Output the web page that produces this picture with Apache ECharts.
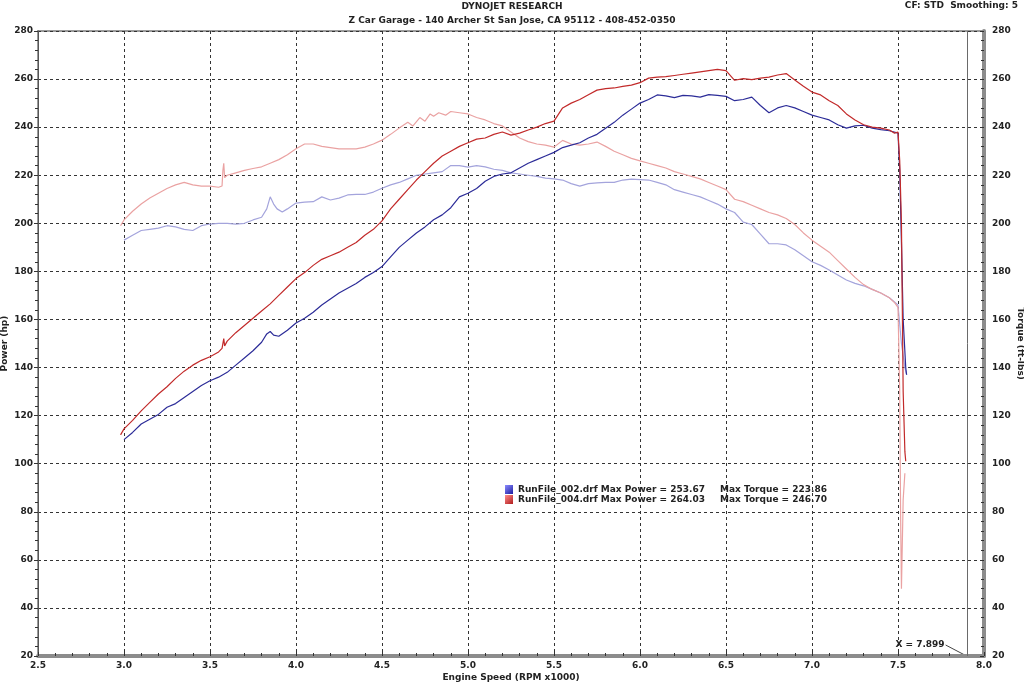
<!DOCTYPE html>
<html>
<head>
<meta charset="utf-8">
<script src="https://cdn.jsdelivr.net/npm/echarts@6/dist/echarts.min.js"></script>
<style>html,body{margin:0;padding:0;background:#fff}#c{width:1024px;height:682px}</style>
</head>
<body>
<div id="c"></div>
<script>
// ---- Data ----
const xTicks = ['2.5','3.0','3.5','4.0','4.5','5.0','5.5','6.0','6.5','7.0','7.5','8.0'];
const yTicks = [20,40,60,80,100,120,140,160,180,200,220,240,260,280];

const rpmP002 = [3.00,3.05,3.10,3.15,3.20,3.25,3.30,3.35,3.40,3.45,3.50,3.55,3.60,3.65,3.70,3.75,3.80,3.83,3.85,3.87,3.90,3.95,4.00,4.05,4.10,4.15,4.20,4.25,4.30,4.35,4.40,4.45,4.50,4.55,4.60,4.65,4.70,4.75,4.80,4.85,4.90,4.95,5.00,5.05,5.10,5.15,5.20,5.25,5.30,5.35,5.40,5.45,5.50,5.55,5.60,5.65,5.70,5.75,5.80,5.85,5.90,5.95,6.00,6.05,6.10,6.15,6.20,6.25,6.30,6.35,6.40,6.45,6.50,6.55,6.60,6.65,6.70,6.75,6.80,6.85,6.90,6.95,7.00,7.05,7.10,7.15,7.20,7.25,7.30,7.35,7.40,7.45,7.50,7.51,7.52,7.53,7.545,7.55];
const power002 = [110,113,116.5,118.5,120.5,123.5,125,127.5,130,132.5,134.5,136,138,141,144,147,150.5,154,155,153.5,153,155.5,158.5,160.5,163,166,168.5,171,173,175,177.5,179.5,182,186,190,193,196,198.5,201.5,203.5,206.5,211,212.5,214.5,217.5,219.5,220.5,221,223,225,226.5,228,229.5,231.5,232.5,233.5,235.5,237,239.5,242,245,247.5,250,251.5,253.4,253,252.3,253.2,253,252.5,253.5,253.2,252.8,251,251.5,252.5,249,246,248,249,248,246.5,245,244,243,241,239.6,240.5,240.8,239.6,239,238.5,237.5,222,192,160,140,137];

const rpmP004 = [2.98,3.00,3.05,3.10,3.15,3.20,3.25,3.30,3.35,3.40,3.45,3.50,3.55,3.57,3.58,3.585,3.59,3.60,3.65,3.70,3.75,3.80,3.85,3.90,3.95,4.00,4.05,4.10,4.15,4.20,4.25,4.30,4.35,4.40,4.45,4.50,4.55,4.60,4.65,4.70,4.75,4.80,4.85,4.90,4.95,5.00,5.05,5.10,5.15,5.20,5.25,5.30,5.35,5.40,5.45,5.50,5.55,5.60,5.65,5.70,5.75,5.80,5.85,5.90,5.95,6.00,6.05,6.10,6.15,6.20,6.25,6.30,6.35,6.40,6.45,6.50,6.55,6.60,6.65,6.70,6.75,6.80,6.85,6.90,6.95,7.00,7.05,7.10,7.15,7.20,7.25,7.30,7.35,7.40,7.45,7.48,7.50,7.51,7.52,7.53,7.54,7.545];
const power004 = [112,114.5,118,122,125.5,129,132,135.5,138.5,141,143,144.5,146.5,148,152,149,148.5,151,154.5,157.5,160.5,163.5,166.5,170,173.5,177,179.5,182.5,185,186.5,188,190,192,195,197.5,201,206,210,214,218,221.5,225,228,230,232,233.5,235,235.5,237,238,236.7,237.5,238.8,240,241.5,242.5,248,250,251.5,253.5,255.4,256,256.3,257,257.5,258.5,260.4,260.8,261,261.5,262,262.5,263,263.5,264,263.5,259.5,260.2,259.8,260.4,260.8,261.7,262.3,259.6,257,254.6,253.4,251,249,245.5,243,241,240,239.6,238.8,237.5,238,226,200,130,105,101];

const rpmT002 = [3.00,3.05,3.10,3.15,3.20,3.25,3.30,3.35,3.40,3.45,3.50,3.55,3.60,3.65,3.70,3.75,3.80,3.83,3.85,3.87,3.89,3.92,3.95,4.00,4.05,4.10,4.15,4.20,4.25,4.30,4.35,4.40,4.45,4.50,4.55,4.60,4.65,4.70,4.75,4.80,4.85,4.90,4.95,5.00,5.05,5.10,5.15,5.20,5.25,5.30,5.35,5.40,5.45,5.50,5.55,5.60,5.65,5.70,5.75,5.80,5.85,5.90,5.95,6.00,6.05,6.10,6.15,6.20,6.25,6.30,6.35,6.40,6.45,6.50,6.55,6.60,6.65,6.70,6.75,6.80,6.85,6.90,6.95,7.00,7.05,7.10,7.15,7.20,7.25,7.30,7.35,7.40,7.45,7.50,7.52,7.54,7.55];
const torque002 = [193,195,197,197.5,198,199,198.5,197.5,197,199,199.7,200,200,199.7,200,201.4,202.5,206,211,208,206,204.7,206,208.4,208.8,209,211,209.7,210.5,211.8,212,212,213,214.6,216,217,218.5,220,220.5,221,221.5,224,224,223.4,224,223.5,222.5,222,221,220.5,220,219.5,218.8,218.5,218,216.5,215.5,216.5,216.8,217,217,218,218.4,218.2,218,217,216,214,213,212,211,209.5,208,206,204.5,200.5,199.5,195.5,191.5,191.5,191,189,186.5,184,182.5,180.6,178.5,176.4,175,174,172.5,171,169,166,150,140,137];

const rpmT004 = [2.98,3.00,3.05,3.10,3.15,3.20,3.25,3.30,3.35,3.40,3.45,3.50,3.55,3.57,3.575,3.58,3.585,3.59,3.60,3.65,3.70,3.75,3.80,3.85,3.90,3.95,4.00,4.05,4.10,4.15,4.20,4.25,4.30,4.35,4.40,4.45,4.50,4.55,4.60,4.65,4.68,4.72,4.75,4.78,4.80,4.83,4.87,4.90,4.95,5.00,5.05,5.10,5.15,5.20,5.25,5.30,5.35,5.40,5.45,5.50,5.55,5.60,5.65,5.70,5.75,5.80,5.85,5.90,5.95,6.00,6.05,6.10,6.15,6.20,6.25,6.30,6.35,6.40,6.45,6.50,6.55,6.60,6.65,6.70,6.75,6.80,6.85,6.90,6.95,7.00,7.05,7.10,7.15,7.20,7.25,7.30,7.35,7.40,7.45,7.48,7.50,7.51,7.515,7.52,7.53,7.54];
const torque004 = [199,201.4,205,208,210.5,212.5,214.5,216,217,216,215.5,215.5,215,215.5,222,225,219,218.5,220,221,222,222.8,223.5,225,226.5,228.5,231,233,233,232,231.5,231,231,231,231.7,233,234.6,237,239.6,242,240.5,244,242.5,245.5,244.5,246,245,246.5,246,245.5,244,243,241.5,240.5,238,235.5,234,233,232.5,231.7,234.5,233,232.5,233,233.8,232,230,228.5,227,226,225,224,223,221.5,220.5,219.5,218.5,217,215.5,214,210,209,207.5,206,204.5,203.5,202,199.5,196,193,190.5,188,184.5,181,177.5,174.5,172.5,171,169,167,165,130,80,48,85,96];

const runNames = ['RunFile_002.drf', 'RunFile_004.drf'];
const maxPower = [253.67, 264.03];
const maxTorque = [223.86, 246.70];
const cursorX = 7.899;

// ---- Chart ----
const pair = (xs, ys) => xs.map((x, i) => [x, ys[i]]);
const FONT = 'DejaVu Sans';
const lbl = {fontFamily: FONT, fontWeight: 'bold', fontSize: 9, color: '#222'};
const chart = echarts.init(document.getElementById('c'), null, {renderer: 'canvas'});

const yBase = {
  type: 'value', min: 20, max: 280, interval: 20,
  minorTick: {show: true, splitNumber: 5, length: 3, lineStyle: {color: '#333'}},
  axisTick: {show: true, length: 4, lineStyle: {color: '#333'}},
  axisLabel: Object.assign({}, lbl, {formatter: v => yTicks.includes(v) ? String(v) : ''}),
  nameLocation: 'middle', nameMoveOverlap: false,
  nameTextStyle: {fontFamily: FONT, fontWeight: 'bold', fontSize: 9, color: '#222'}
};

chart.setOption({
  animation: false,
  backgroundColor: '#fff',
  title: [
    {text: 'DYNOJET RESEARCH', subtext: 'Z Car Garage - 140 Archer St San Jose, CA 95112 - 408-452-0350',
     left: 'center', top: 1, itemGap: 2, padding: 0,
     textStyle: {fontFamily: FONT, fontWeight: 'bold', fontSize: 9, color: '#222', lineHeight: 12},
     subtextStyle: {fontFamily: FONT, fontWeight: 'bold', fontSize: 9, color: '#222', lineHeight: 12}},
    {text: 'CF: STD  Smoothing: 5', right: 6, top: 1, padding: 0,
     textStyle: {fontFamily: FONT, fontWeight: 'bold', fontSize: 9, color: '#222'}}
  ],
  grid: {left: 38, right: 40, top: 31, bottom: 26, containLabel: false, outerBoundsMode: 'none',
         show: true, borderColor: '#9a9a9a', borderWidth: 2, backgroundColor: '#fff'},
  legend: {
    data: runNames, orient: 'vertical', left: 505, top: 485, itemGap: 1, itemWidth: 8, itemHeight: 9,
    icon: 'rect', padding: 0, selectedMode: false,
    formatter: name => {
      const i = runNames.indexOf(name);
      return '{a|' + name + ' Max Power = ' + maxPower[i].toFixed(2) + '}{b|Max Torque = ' + maxTorque[i].toFixed(2) + '}';
    },
    textStyle: {fontFamily: FONT, fontWeight: 'bold', fontSize: 9, color: '#222',
      rich: {a: {fontFamily: FONT, fontWeight: 'bold', fontSize: 9, color: '#222', width: 202},
             b: {fontFamily: FONT, fontWeight: 'bold', fontSize: 9, color: '#222'}}}
  },
  xAxis: {
    type: 'value', min: 2.5, max: 8.0, interval: 0.5,
    name: 'Engine Speed (RPM x1000)', nameLocation: 'middle', nameGap: 17, nameMoveOverlap: false,
    nameTextStyle: {fontFamily: FONT, fontWeight: 'bold', fontSize: 9, color: '#222'},
    axisLine: {show: true, onZero: false, lineStyle: {color: '#8c8c8c', width: 4}},
    axisTick: {show: true, inside: true, length: 4, lineStyle: {color: '#333'}},
    minorTick: {show: true, splitNumber: 5, length: 3, lineStyle: {color: '#333'}},
    axisLabel: Object.assign({}, lbl, {margin: 5, formatter: v => xTicks.includes(v.toFixed(1)) ? v.toFixed(1) : ''}),
    splitLine: {show: true, lineStyle: {color: '#333', type: [3, 3], width: 1}}
  },
  yAxis: [
    Object.assign({}, yBase, {
      position: 'left', name: 'Power (hp)', nameGap: 29,
      axisLine: {show: true, lineStyle: {color: '#555', width: 1}},
      axisLabel: Object.assign({}, yBase.axisLabel, {margin: 5}),
      splitLine: {show: true, lineStyle: {color: '#333', type: [3, 3], width: 1}}
    }),
    Object.assign({}, yBase, {
      position: 'right', name: 'Torque (ft-lbs)', nameGap: 32, nameRotate: -90,
      axisLine: {show: true, lineStyle: {color: '#8c8c8c', width: 4}},
      axisTick: {show: true, inside: true, length: 4, lineStyle: {color: '#333'}},
      axisLabel: Object.assign({}, yBase.axisLabel, {margin: 8}),
      splitLine: {show: false}
    })
  ],
  series: [
    {name: 'RunFile_002.drf torque', type: 'line', yAxisIndex: 1, data: pair(rpmT002, torque002),
     showSymbol: false, symbol: 'none', lineStyle: {color: '#a4a4dc', width: 1.2}, itemStyle: {color: '#a4a4dc'}, z: 2,
     markLine: {silent: true, symbol: ['none', 'none'], label: {show: false},
       lineStyle: {color: '#6a6a6a', type: 'solid', width: 1}, data: [{xAxis: cursorX}]}},
    {name: 'RunFile_004.drf torque', type: 'line', yAxisIndex: 1, data: pair(rpmT004, torque004),
     showSymbol: false, symbol: 'none', lineStyle: {color: '#eaa2a2', width: 1.2}, itemStyle: {color: '#eaa2a2'}, z: 2},
    {name: runNames[0], type: 'line', yAxisIndex: 0, data: pair(rpmP002, power002),
     showSymbol: false, symbol: 'none', lineStyle: {color: '#2c2c98', width: 1.2},
     itemStyle: {color: new echarts.graphic.LinearGradient(0, 0, 1, 1, [{offset: 0, color: '#8c8cff'}, {offset: 1, color: '#1c1ca0'}])}, z: 3},
    {name: runNames[1], type: 'line', yAxisIndex: 0, data: pair(rpmP004, power004),
     showSymbol: false, symbol: 'none', lineStyle: {color: '#c22a2a', width: 1.2},
     itemStyle: {color: new echarts.graphic.LinearGradient(0, 0, 1, 1, [{offset: 0, color: '#ff8c8c'}, {offset: 1, color: '#b01c1c'}])}, z: 3}
  ]
});

// Cursor annotation "X = 7.899" with leader line to the cursor foot
const foot = chart.convertToPixel({xAxisIndex: 0, yAxisIndex: 0}, [cursorX, 20]);
chart.setOption({
  graphic: [
    {type: 'text', x: foot[0] - 22, y: foot[1] - 11,
     style: {text: 'X = ' + cursorX.toFixed(3), fontFamily: FONT, fontWeight: 'bold', fontSize: 9, fill: '#222', align: 'right', verticalAlign: 'middle'}},
    {type: 'line', shape: {x1: foot[0] - 21, y1: foot[1] - 11, x2: foot[0], y2: foot[1]},
     style: {stroke: '#444', lineWidth: 1}}
  ]
});
</script>
</body>
</html>
